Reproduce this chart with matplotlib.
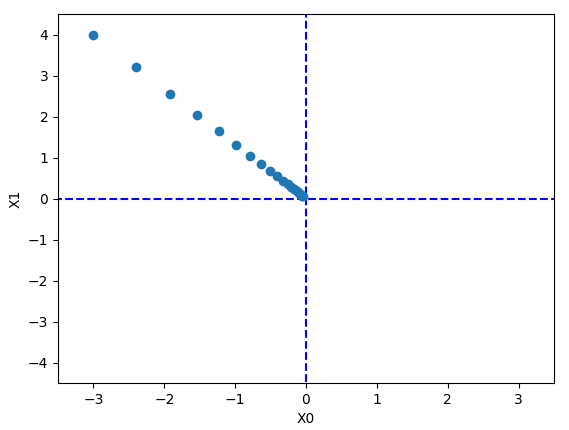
import numpy as np
import matplotlib
matplotlib.use('Agg')
import matplotlib.pyplot as plt

# gradient descent history (x0, x1)
x0_hist = [-3.0, -2.4, -1.92, -1.536, -1.2288, -0.98304, -0.786432, -0.629146,
           -0.503316, -0.402653, -0.322123, -0.257698, -0.206158, -0.164927,
           -0.131941, -0.105553, -0.084442, -0.067554, -0.054043, -0.043235]
x1_hist = [4.0, 3.2, 2.56, 2.048, 1.6384, 1.31072, 1.048576, 0.838861,
           0.671089, 0.536871, 0.429497, 0.343597, 0.274878, 0.219902,
           0.175922, 0.140737, 0.112590, 0.090072, 0.072058, 0.057646]

fig = plt.figure(figsize=(5.69, 4.30), dpi=100)
ax = fig.add_axes([58 / 569, 47 / 430, 496 / 569, 369 / 430])

ax.plot([-5, 5], [0, 0], '--b')
ax.plot([0, 0], [-5, 5], '--b')
ax.plot(x0_hist, x1_hist, 'o')

ax.set_xlim(-3.5, 3.5)
ax.set_ylim(-4.5, 4.5)
ax.set_xlabel('X0')
ax.set_ylabel('X1')

fig.savefig('out.png', dpi=100)
